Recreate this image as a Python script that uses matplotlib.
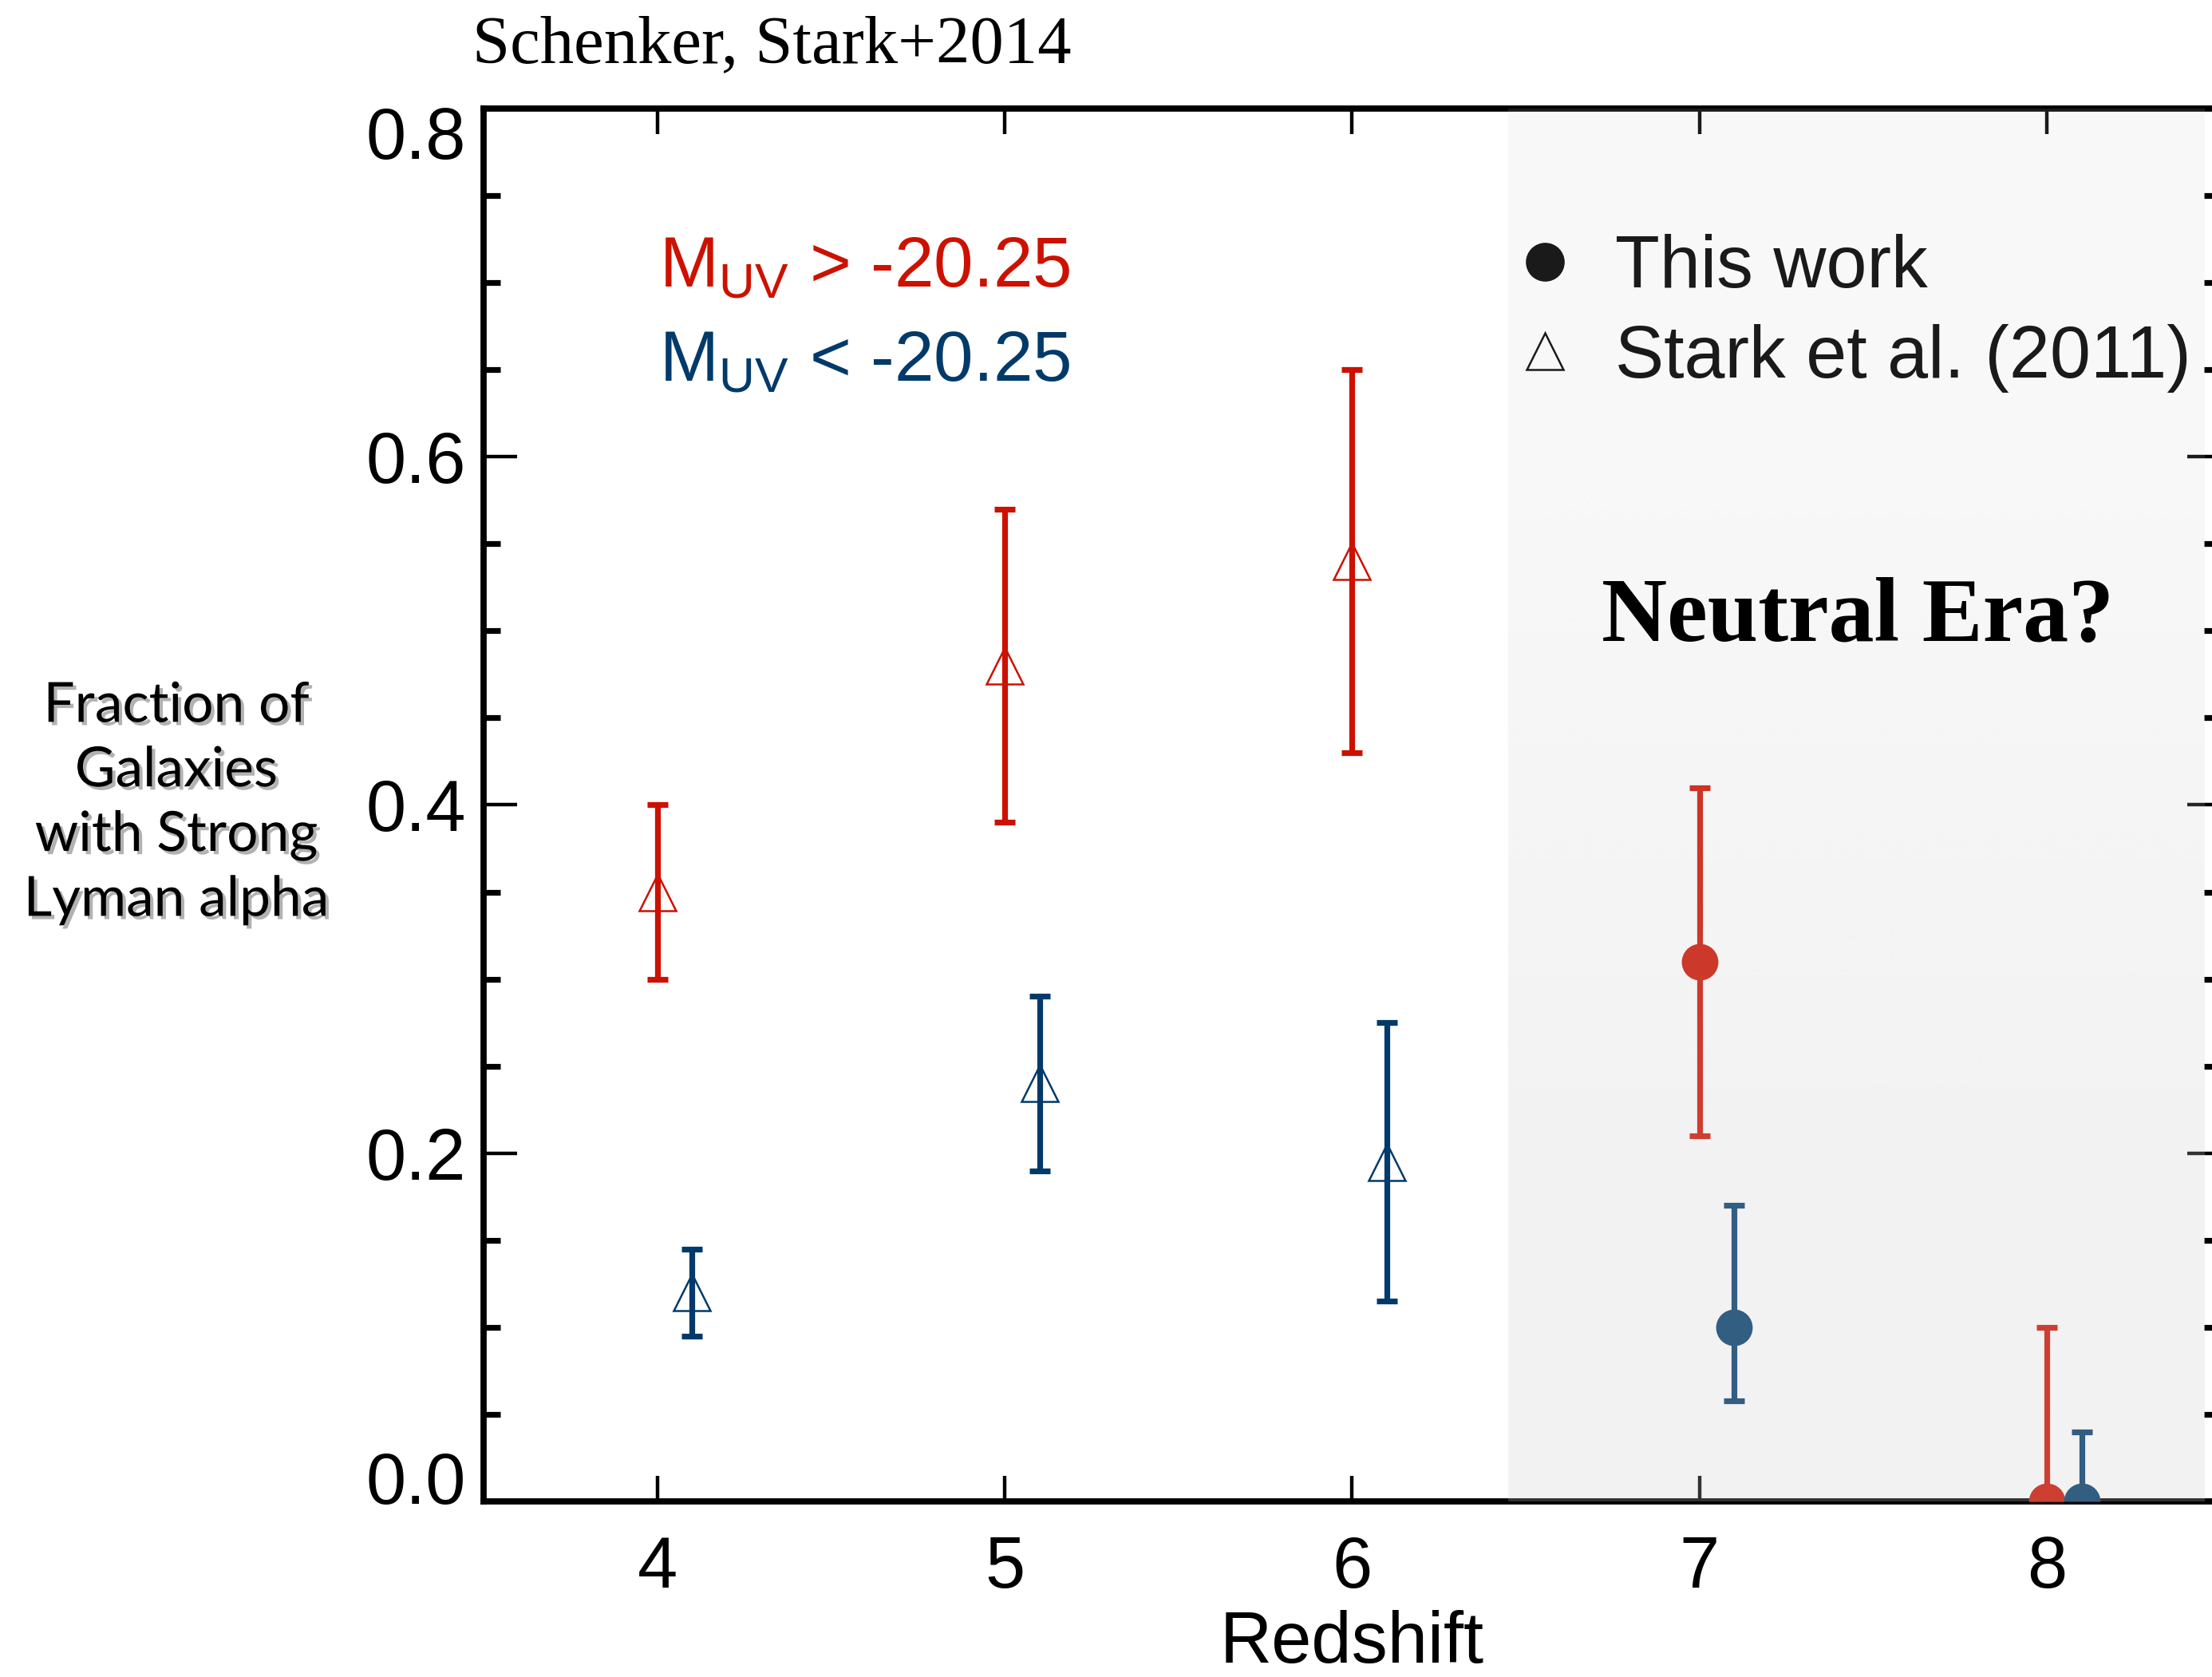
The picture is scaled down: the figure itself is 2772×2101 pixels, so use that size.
import numpy as np
import matplotlib
matplotlib.use('Agg')
import matplotlib.pyplot as plt
from matplotlib.lines import Line2D
from matplotlib.ticker import MultipleLocator, FixedLocator, FormatStrFormatter
from matplotlib.transforms import ScaledTranslation
import matplotlib.patheffects as pe

plt.rcParams['font.family'] = ['Liberation Sans', 'DejaVu Sans']
plt.rcParams['mathtext.fontset'] = 'custom'
plt.rcParams['mathtext.rm'] = 'Liberation Sans'

# ---------------- data ----------------
# Stark et al. (2011), faint (M_UV > -20.25)
stark_faint_z = [4.0, 5.0, 6.0]
stark_faint_f = [0.35, 0.48, 0.54]
stark_faint_lo = [0.30, 0.39, 0.43]
stark_faint_hi = [0.40, 0.57, 0.65]
# Stark et al. (2011), bright (M_UV < -20.25)
stark_bright_z = [4.1, 5.1, 6.1]
stark_bright_f = [0.12, 0.24, 0.195]
stark_bright_lo = [0.095, 0.19, 0.115]
stark_bright_hi = [0.145, 0.29, 0.275]
# This work, faint
this_faint_z = [7.0, 8.0]
this_faint_f = [0.31, 0.0]
this_faint_lo = [0.21, 0.0]
this_faint_hi = [0.41, 0.10]
# This work, bright
this_bright_z = [7.1, 8.1]
this_bright_f = [0.10, 0.0]
this_bright_lo = [0.058, 0.0]
this_bright_hi = [0.17, 0.04]

x_ticks = [4, 5, 6, 7, 8]
y_ticks = [0.0, 0.2, 0.4, 0.6, 0.8]
neutral_start = 6.45
neutral_end = 8.455

RED = '#cc1100'
BLUE = '#003a6a'

fig = plt.figure(figsize=(13.86, 10.505), dpi=200)
ax = fig.add_axes([0.2186, 0.1047, 0.7853, 0.8306])


def draw(z, f, lo, hi, color, marker, filled):
    f = np.asarray(f)
    yerr = [f - np.asarray(lo), np.asarray(hi) - f]
    kw = dict(fmt=marker, color=color, ecolor=color, elinewidth=2.6, capsize=4.6,
              capthick=2.6, ms=16.5, zorder=3)
    if filled:
        kw.update(mfc=color, mec=color)
    else:
        kw.update(mfc='none', mec=color, mew=0.9)
    eb = ax.errorbar(z, f, yerr=yerr, **kw)
    eb[0].set_markeredgewidth(0.0 if filled else 0.9)
    for cap in eb[1]:
        cap.set_markeredgewidth(2.6)


draw(stark_faint_z, stark_faint_f, stark_faint_lo, stark_faint_hi, RED, '^', False)
draw(stark_bright_z, stark_bright_f, stark_bright_lo, stark_bright_hi, BLUE, '^', False)
draw(this_faint_z, this_faint_f, this_faint_lo, this_faint_hi, RED, 'o', True)
draw(this_bright_z, this_bright_f, this_bright_lo, this_bright_hi, BLUE, 'o', True)

# shaded "neutral era" overlay (light vertical gradient)
grad = np.zeros((2, 1, 4))
grad[..., :3] = 0.8
grad[0, 0, 3] = 0.13   # top
grad[1, 0, 3] = 0.25   # bottom
ax.imshow(grad, extent=(neutral_start, neutral_end, 0.0, 0.8), aspect='auto',
          interpolation='bilinear', origin='upper', zorder=6)

ax.set_xlim(3.5, 8.5)
ax.set_ylim(0, 0.8)
ax.xaxis.set_major_locator(FixedLocator(x_ticks))
ax.yaxis.set_major_locator(FixedLocator(y_ticks))
ax.yaxis.set_minor_locator(MultipleLocator(0.05))
ax.yaxis.set_major_formatter(FormatStrFormatter('%.1f'))
ax.set_xticklabels([str(t) for t in x_ticks])

ax.tick_params(axis='both', which='both', direction='in', top=True, right=True,
               labelsize=32.5, colors='black')
ax.tick_params(axis='x', which='major', length=11.5, width=1.6, pad=15)
ax.tick_params(axis='y', which='major', length=15, width=1.6, pad=8)
ax.tick_params(axis='y', which='minor', length=7.5, width=2.6)
for s in ax.spines.values():
    s.set_linewidth(2.8)

# end labels of the y axis sit inside the axis range
ylabels = ax.get_yticklabels()
ylabels[0].set_transform(ylabels[0].get_transform() + ScaledTranslation(0, 0.15, fig.dpi_scale_trans))
ylabels[-1].set_transform(ylabels[-1].get_transform() + ScaledTranslation(0, -0.15, fig.dpi_scale_trans))

ax.set_xlabel('Redshift', fontsize=32.5, labelpad=3.5)

# legend
handles = [Line2D([], [], marker='o', ls='none', color='black', ms=16.5),
           Line2D([], [], marker='^', ls='none', mfc='none', mec='black', mew=0.9, ms=16.5)]
leg = ax.legend(handles, ['This work', 'Stark et al. (2011)'], loc='upper left',
                bbox_to_anchor=(1890 / 2772, 1 - 293 / 2101), bbox_transform=fig.transFigure,
                frameon=False, fontsize=33, handlelength=1.0, handletextpad=0.46,
                labelspacing=0.29, borderpad=0, borderaxespad=0, numpoints=1)
leg.set_zorder(5)

fig.text(0.840, 0.6311, 'Neutral Era?', ha='center', va='center', fontsize=41,
         fontweight='bold', family='Liberation Serif', color='black', zorder=10)

fig.text(826 / 2772, 1 - 359 / 2101, r'$\mathregular{M_{UV}}$ > -20.25', color=RED,
         fontsize=32, va='baseline', ha='left')
fig.text(826 / 2772, 1 - 477 / 2101, r'$\mathregular{M_{UV}}$ < -20.25', color=BLUE,
         fontsize=32, va='baseline', ha='left')

fig.text(592 / 2772, 1 - 78 / 2101, 'Schenker, Stark+2014', family='Liberation Serif',
         fontsize=30.5, va='baseline', ha='left')

fig.text(0.0797, 0.521, 'Fraction of\nGalaxies\nwith Strong\nLyman alpha',
         ha='center', va='center', multialignment='center', fontsize=25,
         family='Lato', linespacing=1.35,
         path_effects=[pe.SimplePatchShadow(offset=(1.5, -1.5), shadow_rgbFace='black', alpha=0.3),
                       pe.Normal()])

fig.savefig('out.png', dpi=200)
